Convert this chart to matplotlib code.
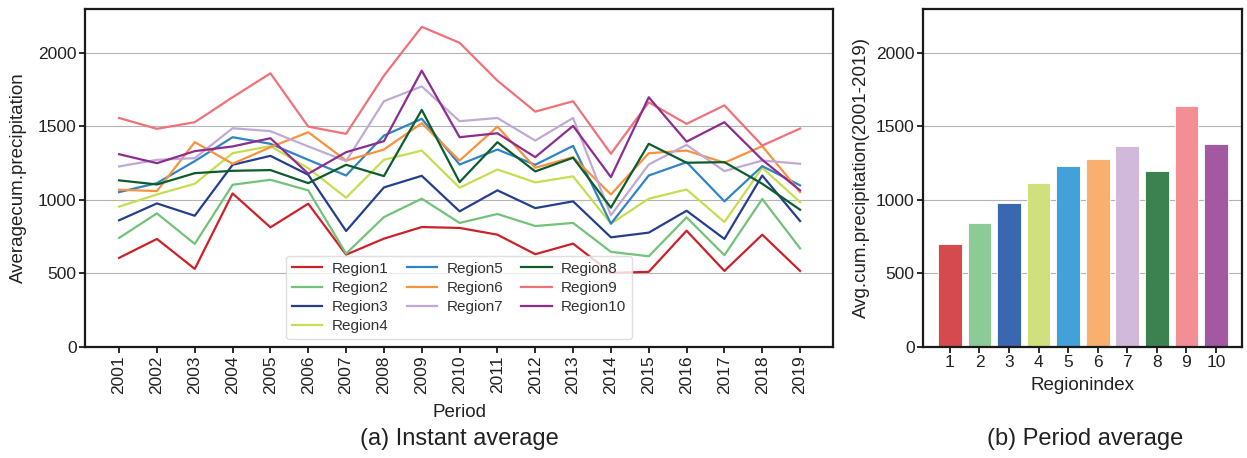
import matplotlib
matplotlib.use("Agg")
import matplotlib.pyplot as plt
import numpy as np

plt.rcParams['font.family'] = ['Liberation Sans', 'DejaVu Sans']

years = [str(y) for y in range(2001, 2020)]
region_names = [f"Region{i}" for i in range(1, 11)]
line_colors = ['#cc2129', '#72c27a', '#253f8e', '#c6dd50', '#3184c4',
               '#f8923f', '#c0aad4', '#0d5c2c', '#f07178', '#8c2d8f']
bar_colors = ['#d44a4e', '#8ccb98', '#3b66b0', '#d1e07e', '#43a0d8',
              '#f9b06f', '#d0b9da', '#3b8250', '#f48e95', '#a259a2']

region1 = [605, 734, 530, 1044, 813, 974, 627, 736, 815, 809, 763, 630, 702, 503, 510, 790, 516, 763, 516]
region2 = [741, 908, 700, 1103, 1137, 1065, 634, 883, 1008, 843, 904, 822, 843, 646, 616, 881, 623, 1006, 670]
region3 = [861, 976, 892, 1239, 1300, 1171, 788, 1085, 1164, 922, 1065, 944, 990, 745, 777, 926, 734, 1166, 856]
region4 = [954, 1037, 1110, 1318, 1366, 1216, 1015, 1273, 1336, 1083, 1207, 1119, 1160, 838, 1008, 1071, 849, 1219, 985]
region5 = [1053, 1114, 1264, 1427, 1382, 1273, 1166, 1438, 1552, 1241, 1343, 1239, 1368, 838, 1166, 1257, 990, 1230, 1099]
region6 = [1069, 1060, 1393, 1246, 1359, 1461, 1268, 1343, 1522, 1268, 1499, 1219, 1291, 1037, 1318, 1336, 1253, 1366, 1053]
region7 = [1228, 1273, 1284, 1488, 1468, 1364, 1264, 1672, 1773, 1536, 1558, 1404, 1558, 895, 1241, 1375, 1196, 1268, 1246]
region8 = [1133, 1105, 1182, 1198, 1203, 1114, 1239, 1162, 1613, 1121, 1393, 1194, 1287, 947, 1382, 1253, 1257, 1110, 933]
region9 = [1558, 1484, 1529, 1699, 1862, 1499, 1450, 1846, 2179, 2070, 1812, 1601, 1672, 1314, 1665, 1518, 1644, 1370, 1486]
region10 = [1311, 1250, 1332, 1364, 1420, 1178, 1325, 1400, 1880, 1427, 1454, 1291, 1504, 1155, 1699, 1397, 1529, 1273, 1065]
series = [region1, region2, region3, region4, region5,
          region6, region7, region8, region9, region10]

region_index = [str(i) for i in range(1, 11)]
period_avg = [700, 840, 976, 1112, 1232, 1280, 1370, 1200, 1642, 1382]

fig = plt.figure(figsize=(12.47, 4.58), dpi=100)
ax1 = fig.add_axes([0.0682, 0.2430, 0.5998, 0.7373])
ax2 = fig.add_axes([0.7402, 0.2430, 0.2558, 0.7373])

x = np.arange(len(years))
for name, vals, c in zip(region_names, series, line_colors):
    ax1.plot(x, vals, color=c, lw=1.6, label=name)

for ax in (ax1, ax2):
    ax.set_ylim(0, 2300)
    ax.set_yticks([0, 500, 1000, 1500, 2000])
    ax.grid(axis='y', color='#b4b4b4', lw=0.8)
    ax.set_axisbelow(True)
    for s in ax.spines.values():
        s.set_linewidth(1.6)
        s.set_color('#1a1a1a')
    ax.tick_params(axis='both', direction='out', length=4, width=1.3,
                   color='#1a1a1a', labelsize=12.5, labelcolor='#222222', pad=2)

ax1.set_xticks(x)
ax1.set_xticklabels(years, rotation=90)
ax1.set_xlim(-0.9, len(years) - 1 + 0.87)
ax1.set_xlabel('Period', fontsize=13.5, color='#222222', labelpad=7)
ax1.set_ylabel('Averagecum.precipitation', fontsize=13.5, color='#222222', labelpad=8)
leg = ax1.legend(loc='lower center', ncol=3, fontsize=11, frameon=True,
                 borderaxespad=0.5, handlelength=2.0, columnspacing=1.2,
                 labelspacing=0.33, handletextpad=0.6)
leg.get_frame().set_edgecolor('#d8d8d8')
leg.get_frame().set_alpha(0.8)
for t in leg.get_texts():
    t.set_color('#333333')

xb = np.arange(len(region_index))
ax2.bar(xb, period_avg, width=0.8, color=bar_colors,
        edgecolor='white', linewidth=0.6)
ax2.set_xticks(xb)
ax2.set_xticklabels(region_index)
ax2.set_xlim(-0.91, len(region_index) - 1 + 0.88)
ax2.set_xlabel('Regionindex', fontsize=13.5, color='#222222', labelpad=5)
ax2.set_ylabel('Avg.cum.precipitation(2001-2019)', fontsize=13.5, color='#222222', labelpad=4)

fig.text(0.368, 0.042, '(a) Instant average', ha='center', va='center',
         fontsize=17, color='#222222')
fig.text(0.870, 0.042, '(b) Period average', ha='center', va='center',
         fontsize=17, color='#222222')

fig.savefig('out.png', dpi=100, facecolor='white')
